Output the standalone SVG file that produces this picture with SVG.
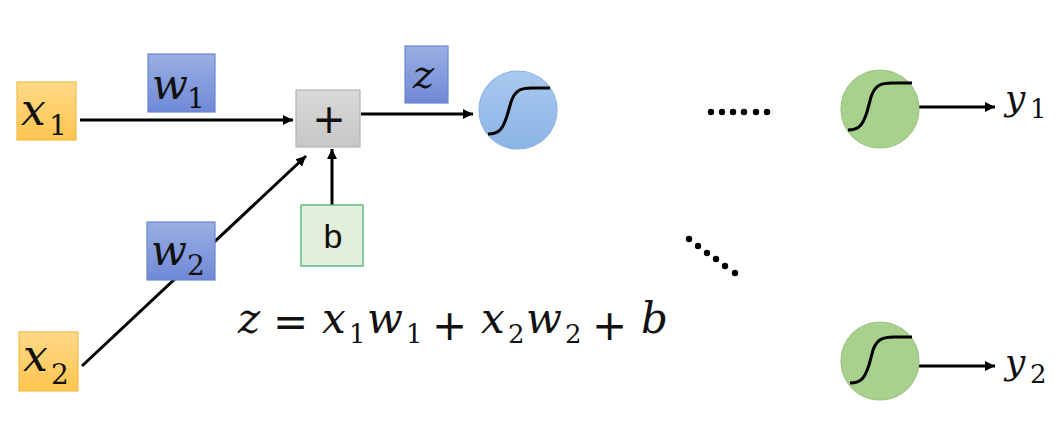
<svg xmlns="http://www.w3.org/2000/svg" width="1064" height="422" viewBox="0 0 1064 422">
<defs>
<linearGradient id="gOr" x1="0" y1="0" x2="0" y2="1"><stop offset="0" stop-color="#FFD988"/><stop offset="1" stop-color="#FFC54E"/></linearGradient>
<linearGradient id="gBl" x1="0" y1="0" x2="0" y2="1"><stop offset="0" stop-color="#9AAFE3"/><stop offset="1" stop-color="#7089D6"/></linearGradient>
<linearGradient id="gGr" x1="0" y1="0" x2="0" y2="1"><stop offset="0" stop-color="#D9D9D9"/><stop offset="1" stop-color="#C6C6C6"/></linearGradient>
<linearGradient id="gCb" x1="0" y1="0" x2="0" y2="1"><stop offset="0" stop-color="#A9C8EE"/><stop offset="1" stop-color="#8BB4E6"/></linearGradient>
<marker id="ah" viewBox="0 0 10 10" refX="10" refY="5" markerWidth="10" markerHeight="10" markerUnits="userSpaceOnUse" orient="auto"><path d="M0,0 L10,5 L0,10 Z" fill="#000"/></marker>
<style>
.xin{fill:url(#gOr);stroke:#F2BC4A;stroke-width:1.2}
.wt{fill:url(#gBl);stroke:#6A85CF;stroke-width:1.2}
.m{font-family:"DejaVu Serif",serif;font-style:italic;fill:#111}
.s{font-family:"DejaVu Serif",serif;font-style:normal;fill:#111}
.op{font-family:"DejaVu Sans",sans-serif;font-style:normal;font-weight:normal;fill:#111}
.con{stroke:#000;stroke-width:3;fill:none;marker-end:url(#ah)}
.sig{stroke:#000;stroke-width:3;fill:none}
.gc{fill:#A9D18E;stroke:#9CC383;stroke-width:1.2}
.dot{fill:#000}
</style>
</defs>
<rect width="1064" height="422" fill="#fff"/>
<g id="connectors">
<line class="con" x1="80" y1="120" x2="293" y2="120"/>
<line class="con" x1="82" y1="366" x2="306" y2="156"/>
<line class="con" x1="332" y1="205" x2="332" y2="149"/>
<line class="con" x1="361" y1="114" x2="473" y2="114"/>
<line class="con" x1="919" y1="107" x2="995" y2="107"/>
<line class="con" x1="919" y1="366" x2="995" y2="366"/>
</g>
<g id="x1"><rect class="xin" x="17" y="82" width="59" height="58"/><text class="m" font-size="44" x="21" y="125">x<tspan class="s" font-size="28" x="49" y="135">1</tspan></text></g>
<g id="x2"><rect class="xin" x="19" y="332" width="59" height="59"/><text class="m" font-size="44" x="23" y="371">x<tspan class="s" font-size="28" x="51" y="384">2</tspan></text></g>
<g id="w1"><rect class="wt" x="148" y="54" width="67" height="58"/><text class="m" font-size="42" x="152" y="99">w<tspan class="s" font-size="28" x="187" y="108">1</tspan></text></g>
<g id="w2"><rect class="wt" x="147" y="222" width="68" height="58"/><text class="m" font-size="42" x="151" y="265">w<tspan class="s" font-size="28" x="187" y="275">2</tspan></text></g>
<g id="sum"><rect x="296" y="90" width="64" height="57" fill="url(#gGr)" stroke="#B3B3B3" stroke-width="1.2"/><text class="op" font-size="40" x="329" y="133" text-anchor="middle">+</text></g>
<g id="bias"><rect x="301" y="205" width="62" height="61" fill="#E2EFDA" stroke="#5DB887" stroke-width="1.5"/><text font-family="Liberation Sans,sans-serif" font-size="34" x="333" y="248" text-anchor="middle" fill="#111">b</text></g>
<g id="zlabel"><rect class="wt" x="405" y="46" width="43" height="57"/><text class="m" font-size="40" x="413" y="88">z</text></g>
<g id="act"><circle cx="518" cy="110" r="39" fill="url(#gCb)" stroke="#8DB3E2" stroke-width="1.2"/><path class="sig" d="M488,134 C500,134 503,128 507,116 L511,102 C515,90 521,88 532,88 L550,88"/></g>
<g id="dots1"><circle class="dot" cx="711" cy="112" r="3.2"/><circle class="dot" cx="722" cy="112" r="3.2"/><circle class="dot" cx="733" cy="112" r="3.2"/><circle class="dot" cx="744" cy="112" r="3.2"/><circle class="dot" cx="756" cy="112" r="3.2"/><circle class="dot" cx="767" cy="112" r="3.2"/></g>
<g id="dots2"><circle class="dot" cx="689" cy="239" r="3.2"/><circle class="dot" cx="698" cy="246" r="3.2"/><circle class="dot" cx="707" cy="253" r="3.2"/><circle class="dot" cx="716" cy="259" r="3.2"/><circle class="dot" cx="725" cy="266" r="3.2"/><circle class="dot" cx="735" cy="273" r="3.2"/></g>
<g id="out1"><circle class="gc" cx="880" cy="109" r="39"/><path class="sig" d="M848,130 C860,130 863,124 867,112 L871,97 C875,85 881,83 892,83 L912,83"/></g>
<g id="out2"><circle class="gc" cx="880" cy="361" r="39"/><path class="sig" d="M850,383 C862,383 865,377 869,365 L873,350 C877,339 883,337 894,337 L912,337"/></g>
<g id="y1"><text class="m" font-size="36" x="1005" y="110">y<tspan class="s" font-size="26" x="1030" y="118">1</tspan></text></g>
<g id="y2"><text class="m" font-size="36" x="1005" y="374">y<tspan class="s" font-size="26" x="1030" y="383">2</tspan></text></g>
<g id="formula"><text class="m" font-size="42" y="333"><tspan x="238">z</tspan><tspan class="op" font-size="42" x="273" y="336">=</tspan><tspan x="322" y="333">x</tspan><tspan class="s" font-size="26" x="349" y="343">1</tspan><tspan x="367" y="333">w</tspan><tspan class="s" font-size="26" x="406" y="343">1</tspan><tspan class="op" font-size="42" x="432" y="340">+</tspan><tspan x="481" y="333">x</tspan><tspan class="s" font-size="26" x="508" y="343">2</tspan><tspan x="526" y="333">w</tspan><tspan class="s" font-size="26" x="565" y="343">2</tspan><tspan class="op" font-size="42" x="592" y="340">+</tspan><tspan x="641" y="333">b</tspan></text></g>
</svg>
